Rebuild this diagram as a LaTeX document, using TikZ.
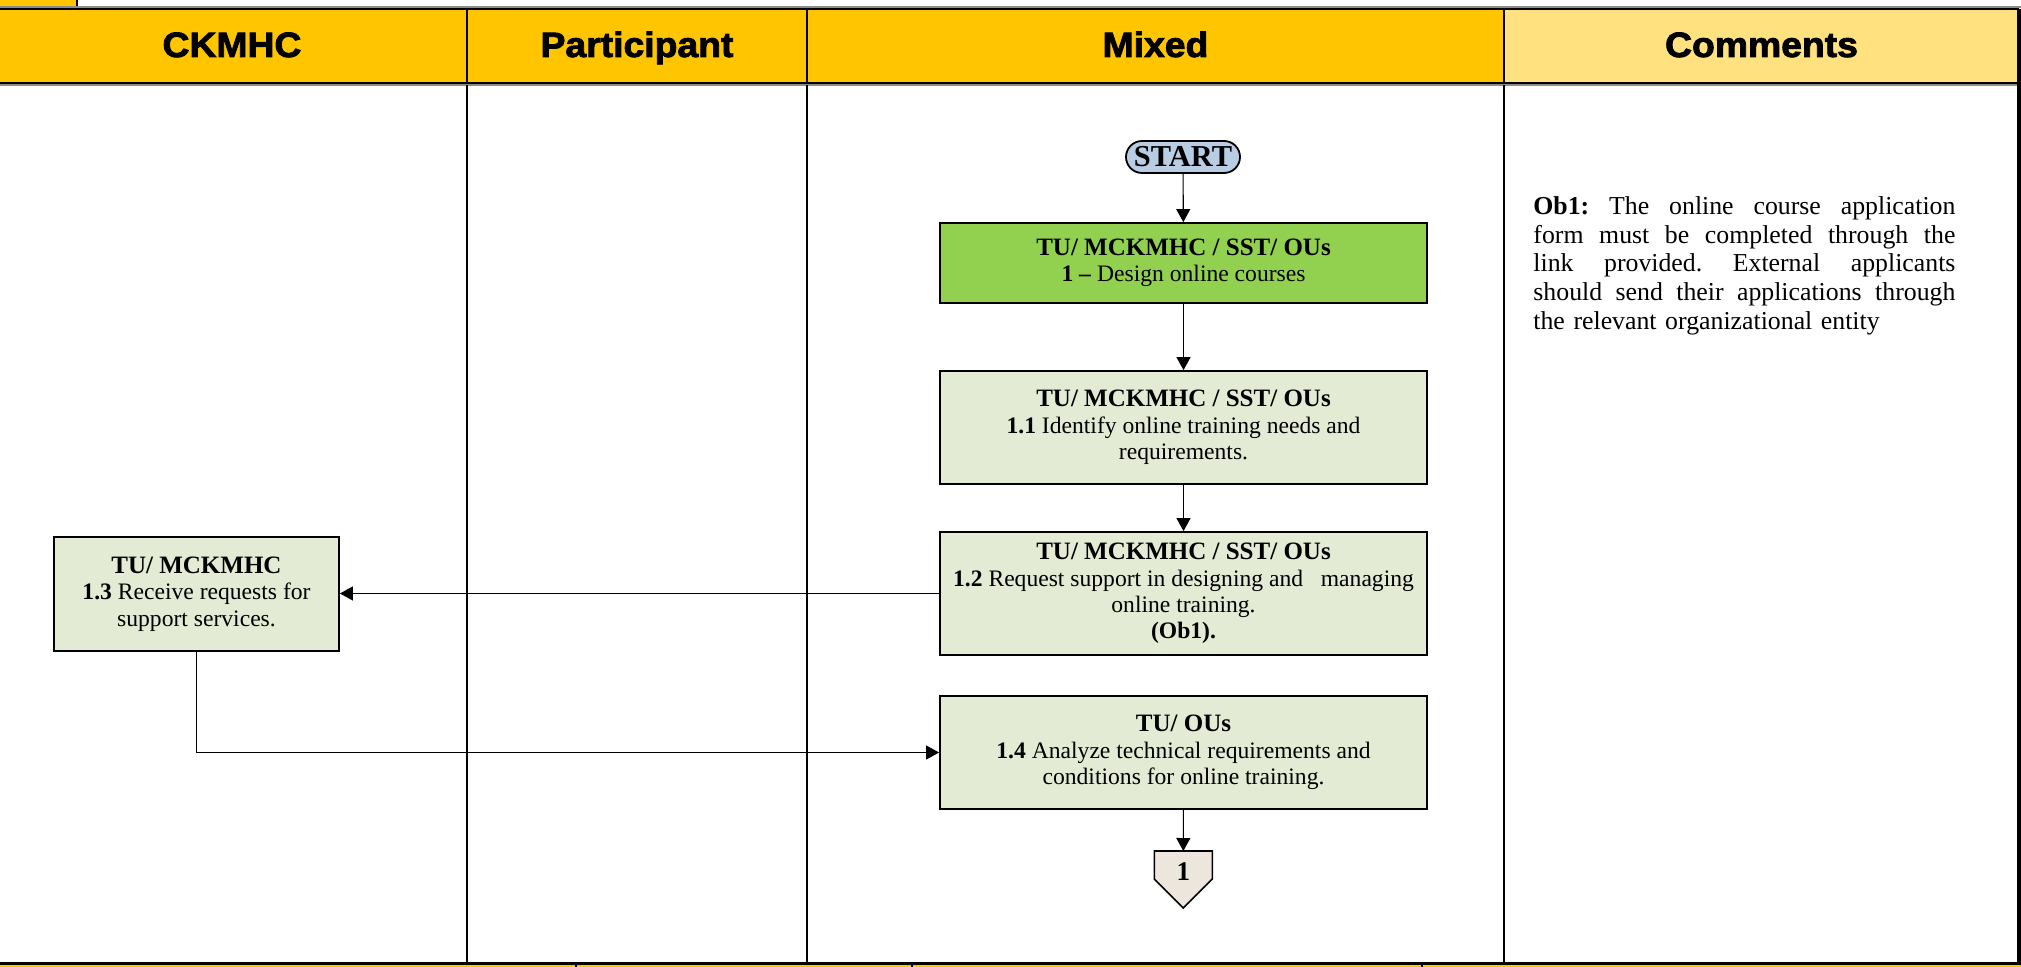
\documentclass[tikz,border=0pt]{standalone}
\usepackage{fontspec}
\setmainfont{Liberation Serif}
\newfontfamily\laneheadface{Liberation Sans}[BoldFeatures={FakeBold=2.4,FakeStretch=1.06}]
\usetikzlibrary{arrows.meta}

\definecolor{headgold}{HTML}{FFC600}
\definecolor{headpale}{HTML}{FFE17F}
\definecolor{stepgreen}{HTML}{92D050}
\definecolor{steplight}{HTML}{E3EBD5}
\definecolor{termblue}{HTML}{B8CCE4}
\definecolor{connfill}{HTML}{ECE6DD}
\definecolor{rulegray}{HTML}{8C8C8C}

\newcommand{\laneheadfont}{\laneheadface\bfseries\fontsize{17.6}{19}\selectfont}
\newcommand{\stepfont}{\fontsize{11.8}{13.2}\selectfont}
\newcommand{\notefont}{\fontsize{12.9}{14.4}\selectfont}
% owner line on top of each step
\newcommand{\owner}[1]{{\fontsize{12.5}{13.2}\selectfont\bfseries #1}}
% one fully justified line of the comment column
\newcommand{\jline}[1]{{\spaceskip=0.25em plus 1fil\xspaceskip=\spaceskip
  \makebox[211pt][s]{#1}}}

\tikzset{
  lanehead/.style={font=\laneheadfont, inner sep=0pt, anchor=base},
  stepbox/.style={draw=black, line width=0.9pt, fill=steplight, align=center,
    font=\stepfont, inner sep=1pt, minimum width=243.5pt},
  termbox/.style={draw=black, line width=0.9pt, fill=termblue, rounded corners=8pt,
    minimum width=57pt, minimum height=16pt, inner sep=0pt,
    font=\fontsize{15.2}{16}\selectfont\bfseries},
  notebox/.style={align=left, text width=211pt, inner sep=0pt, font=\notefont},
  flow/.style={line width=0.55pt, -{Triangle[length=6.5pt,width=7pt]}},
}

\begin{document}
\frenchspacing
\begin{tikzpicture}[x=0.5pt,y=-0.5pt]
\useasboundingbox (0,0) rectangle (2021,967);

% strip of the row above, cut at the top edge
\fill[headgold] (0,0) rectangle (77,7);
\draw[line width=1pt] (77,0) -- (77,7);
\draw[rulegray, line width=0.8pt] (0,7) -- (2021,7);

% lane headers
\fill[headgold] (0,9) rectangle (1504,83);
\fill[headpale] (1504,9) rectangle (2019,83);
\draw[line width=1.2pt] (0,9) -- (2019,9);
\draw[line width=1.2pt] (0,83) -- (2019,83);
\draw[rulegray, line width=0.6pt] (0,85) -- (2019,85);
\foreach \x in {467,807,1504} \draw[line width=1pt] (\x,9) -- (\x,83);

\node[lanehead] (hck)   at (232,57)    {CKMHC};
\node[lanehead] (hpart) at (637,57)    {Participant};
\node[lanehead] (hmix)  at (1155.5,57) {Mixed};
\node[lanehead] (hcom)  at (1761.5,57) {Comments};

% lane separators and frame
\draw[line width=0.6pt] (467,85) -- (467,963);
\draw[line width=1pt]   (807,85) -- (807,963);
\draw[line width=0.7pt] (1504,85) -- (1504,963);
\draw[line width=1.6pt] (2019,9) -- (2019,964);

% bottom edge and the start of the next row
\fill[headgold] (0,964) rectangle (2021,967);
\draw[line width=1.4pt] (0,963.5) -- (2021,963.5);
\foreach \x in {576,912,1422} \draw[line width=0.8pt] (\x,964) -- (\x,967);

% process steps
\node[termbox] (start) at (1183,157) {START};

\node[stepbox, fill=stepgreen, minimum height=40pt] (s1) at (1183.5,263)
  {\owner{TU/ MCKMHC / SST/ OUs}\\\textbf{1 –} Design online courses};

\node[stepbox, minimum height=56.5pt] (s11) at (1183.5,427.5)
  {\owner{TU/ MCKMHC / SST/ OUs}\\\textbf{1.1} Identify online training needs and\\requirements.};

\node[stepbox, minimum height=61.5pt] (s12) at (1183.5,593.5)
  {\owner{TU/ MCKMHC / SST/ OUs}\\\textbf{1.2} Request support in designing and\ \ \ managing\\online training.\\\textbf{(Ob1).}};

\node[stepbox, minimum width=142.5pt, minimum height=57pt] (s13) at (196.5,594)
  {\owner{TU/ MCKMHC}\\\textbf{1.3} Receive requests for\\support services.};

\node[stepbox, minimum height=56.5pt] (s14) at (1183.5,752.5)
  {\owner{TU/ OUs}\\\textbf{1.4} Analyze technical requirements and\\conditions for online training.};

% off-page connector
\coordinate (c1top) at (1183.3,851);
\draw[line width=0.8pt, fill=connfill]
  (1154.3,851) -- (1212.3,851) -- (1212.3,879) -- (1183.3,908) -- (1154.3,879) -- cycle;
\node[font=\fontsize{13.5}{14}\selectfont\bfseries, inner sep=0pt] (c1) at (1183.3,872) {1};

% flow
\draw[flow] (start) -- (s1);
\draw[flow] (s1) -- (s11);
\draw[flow] (s11) -- (s12);
\draw[flow] (s12.west) -- (s13.east |- s12.west);
\draw[flow] (s13.south) |- (s14.west);
\draw[flow] (s14) -- (c1top);

% comment
\node[notebox, anchor=north west] (ob1) at (1533,196)
  {\jline{\textbf{Ob1:} The online course application}\\
   \jline{form must be completed through the}\\
   \jline{link provided. External applicants}\\
   \jline{should send their applications through}\\
   the relevant organizational entity};
\end{tikzpicture}
\end{document}
